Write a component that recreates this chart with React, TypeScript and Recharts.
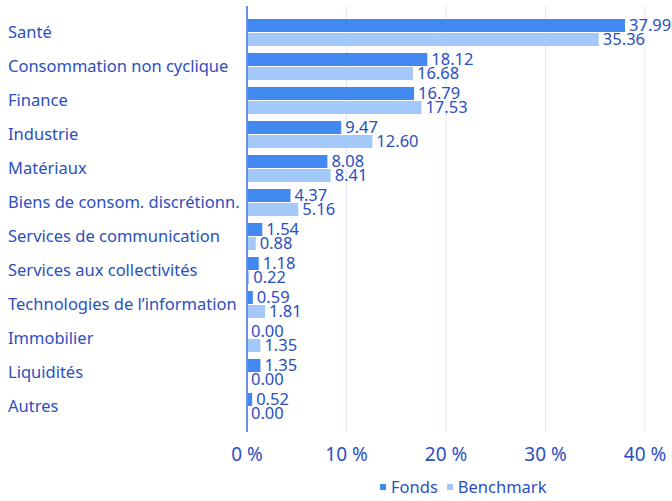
import { BarChart, Bar, XAxis, YAxis, CartesianGrid, Legend, LabelList } from "recharts";

const categories = [
  "Santé",
  "Consommation non cyclique",
  "Finance",
  "Industrie",
  "Matériaux",
  "Biens de consom. discrétionn.",
  "Services de communication",
  "Services aux collectivités",
  "Technologies de l’information",
  "Immobilier",
  "Liquidités",
  "Autres",
];
const fonds = [37.99, 18.12, 16.79, 9.47, 8.08, 4.37, 1.54, 1.18, 0.59, 0.0, 1.35, 0.52];
const benchmark = [35.36, 16.68, 17.53, 12.6, 8.41, 5.16, 0.88, 0.22, 1.81, 1.35, 0.0, 0.0];
const xTicks = [0, 10, 20, 30, 40];

const data = categories.map((name, i) => ({ name, fonds: fonds[i], benchmark: benchmark[i] }));

const textColor = "#2b4fc0";
const fondsColor = "#4188f0";
const benchColor = "#a2c9fa";
const font = "'Noto Sans', sans-serif";

const CategoryTick = (props: any) => {
  const { y, payload } = props;
  return (
    <text x={8} y={y} dy={5.5} textAnchor="start" fill={textColor} fontSize={16.5} fontFamily={font}>
      {payload.value}
    </text>
  );
};

const LegendBox = () => (
  <div
    style={{
      height: 29,
      paddingTop: 8,
      paddingLeft: 380,
      boxSizing: "border-box",
      display: "flex",
      alignItems: "center",
      gap: 9,
      fontFamily: font,
      fontSize: 16.5,
      color: textColor,
    }}
  >
    {[
      ["Fonds", fondsColor],
      ["Benchmark", benchColor],
    ].map(([label, color]) => (
      <span key={label} style={{ display: "flex", alignItems: "center", gap: 5 }}>
        <span style={{ width: 6, height: 6, background: color, display: "inline-block" }} />
        {label}
      </span>
    ))}
  </div>
);

const fmt = (v: any) => Number(v).toFixed(2);

export default function App() {
  return (
    <div style={{ position: "absolute", left: 0, top: 0 }}>
      <BarChart
        width={672}
        height={501}
        data={data}
        layout="vertical"
        margin={{ top: 6, right: 27, bottom: 4, left: 0 }}
        barGap={1}
        barCategoryGap={3}
      >
        <CartesianGrid horizontal={false} stroke="#dde9fb" />
        <XAxis
          type="number"
          domain={[0, 40]}
          ticks={xTicks}
          tickFormatter={(v) => `${v} %`}
          axisLine={false}
          tickLine={false}
          height={36}
          tick={{ fill: textColor, fontSize: 19, fontFamily: font, dy: 8 }}
        />
        <YAxis
          type="category"
          dataKey="name"
          width={247}
          tick={<CategoryTick />}
          tickLine={false}
          axisLine={{ stroke: "#6a8ee0", strokeWidth: 2 }}
          padding={{ top: 9, bottom: 9 }}
          interval={0}
        />
        <Legend verticalAlign="bottom" content={<LegendBox />} />
        <Bar dataKey="fonds" name="Fonds" fill={fondsColor} barSize={13} minPointSize={0.01} isAnimationActive={false}>
          <LabelList dataKey="fonds" position="right" offset={4} formatter={fmt} fill={textColor} fontSize={16.5} fontFamily={font} />
        </Bar>
        <Bar dataKey="benchmark" name="Benchmark" fill={benchColor} barSize={13} minPointSize={0.01} isAnimationActive={false}>
          <LabelList dataKey="benchmark" position="right" offset={4} formatter={fmt} fill={textColor} fontSize={16.5} fontFamily={font} />
        </Bar>
      </BarChart>
    </div>
  );
}
